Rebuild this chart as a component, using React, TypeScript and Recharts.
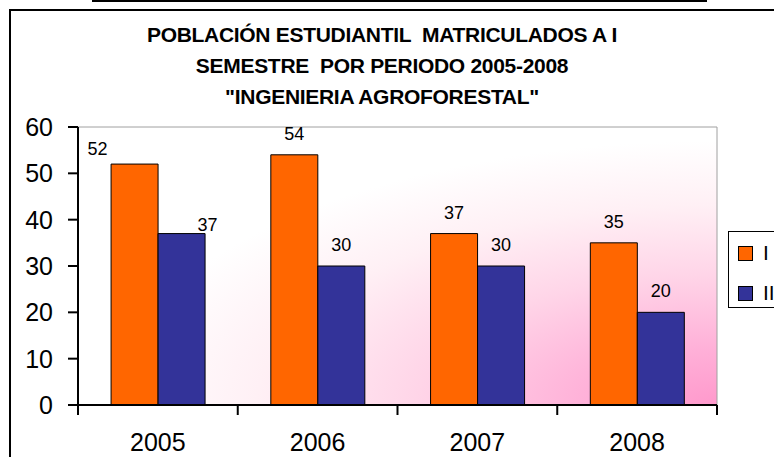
import { BarChart, Bar, XAxis, YAxis, Legend, LabelList, CartesianGrid, ReferenceArea } from "recharts";

const years = ["2005", "2006", "2007", "2008"];
const semesterI = [52, 54, 37, 35];
const semesterII = [37, 30, 30, 20];
const yTicks = [0, 10, 20, 30, 40, 50, 60];
const titleLines = [
  "POBLACIÓN ESTUDIANTIL  MATRICULADOS A I",
  "SEMESTRE  POR PERIODO 2005-2008",
  "\"INGENIERIA AGROFORESTAL\"",
];

const data = years.map((year, i) => ({ year, I: semesterI[i], II: semesterII[i] }));

const FONT = "'Liberation Sans', Arial, sans-serif";

// Excel moved a couple of labels off-centre
const labelNudges: Record<string, { dx: number; dy: number }> = {
  "I-0": { dx: -37, dy: 6 },
  "II-0": { dx: 26, dy: 12 },
};

function makeLabel(series: string) {
  return (props: any) => {
    const { x, y, width, value, index } = props;
    const n = labelNudges[`${series}-${index}`] ?? { dx: 0, dy: 0 };
    return (
      <text
        x={Number(x) + Number(width) / 2 + n.dx}
        y={Number(y) - 15 + n.dy}
        textAnchor="middle"
        fontSize={18}
        fontFamily={FONT}
        fill="#000"
      >
        {value}
      </text>
    );
  };
}

function YearTick(props: any) {
  const { x, y, payload } = props;
  const half = payload.offset ?? 0;
  const last = payload.index === years.length - 1;
  return (
    <g>
      <line x1={x - half} x2={x - half} y1={y} y2={y + 10} stroke="#000" strokeWidth={2} />
      {last && <line x1={x + half} x2={x + half} y1={y} y2={y + 10} stroke="#000" strokeWidth={2} />}
      <text x={x} y={y + 46} textAnchor="middle" fontSize={25} fontFamily={FONT} fill="#000">
        {payload.value}
      </text>
    </g>
  );
}

function LegendBox(props: any) {
  const items = props.payload ?? [];
  return (
    <div
      style={{
        border: "1px solid #000",
        width: 60,
        height: 77,
        boxSizing: "border-box",
        background: "#fff",
        paddingTop: 13,
        paddingLeft: 9,
      }}
    >
      {items.map((it: any, i: number) => (
        <div key={i} style={{ display: "flex", alignItems: "center", height: 16, marginBottom: 24 }}>
          <span
            style={{
              width: 15,
              height: 15,
              boxSizing: "border-box",
              border: "1px solid #000",
              background: it.color,
              marginRight: 10,
            }}
          />
          <span style={{ fontSize: 21, fontFamily: FONT, lineHeight: "16px" }}>{it.value}</span>
        </div>
      ))}
    </div>
  );
}

export default function App() {
  return (
    <div
      style={{
        position: "absolute",
        left: 0,
        top: 0,
        width: 774,
        height: 457,
        overflow: "hidden",
        background: "#fff",
        fontFamily: FONT,
      }}
    >
      <div style={{ position: "absolute", left: 92, top: 0, width: 615, height: 2, background: "#000" }} />
      <div
        style={{
          position: "absolute",
          left: 9,
          top: 9,
          width: 800,
          height: 500,
          border: "2px solid #000",
        }}
      />
      <div
        style={{
          position: "absolute",
          left: 0,
          top: 19,
          width: 764,
          textAlign: "center",
          fontWeight: "bold",
          fontSize: 21,
          letterSpacing: "-0.3px",
          lineHeight: "31px",
          whiteSpace: "pre",
          color: "#000",
        }}
      >
        {titleLines.map((t) => (
          <div key={t}>{t}</div>
        ))}
      </div>
      <div style={{ position: "absolute", left: 0, top: 0 }}>
        <BarChart
          width={774}
          height={457}
          data={data}
          margin={{ top: 127, right: 57, bottom: 0, left: 0 }}
          barCategoryGap="20.7%"
          barGap={0}
        >
          <defs>
            <radialGradient id="plotBg" cx="1" cy="1" r="1" fx="1" fy="1">
              <stop offset="0" stopColor="#ff99cc" />
              <stop offset="0.2" stopColor="#ffb0d8" />
              <stop offset="0.47" stopColor="#ffd5e8" />
              <stop offset="0.72" stopColor="#fff0f5" />
              <stop offset="0.95" stopColor="#ffffff" />
            </radialGradient>
          </defs>
          <CartesianGrid horizontal={false} vertical={false} fill="url(#plotBg)" />
          <ReferenceArea y1={0} y2={60} fill="none" stroke="#a0a0a0" strokeWidth={1} ifOverflow="visible" />
          <XAxis
            dataKey="year"
            height={52}
            tickSize={0}
            tickMargin={0}
            tickLine={false}
            axisLine={{ stroke: "#000", strokeWidth: 2 }}
            tick={<YearTick />}
            interval={0}
          />
          <YAxis
            domain={[0, 60]}
            ticks={yTicks}
            interval={0}
            width={78}
            tickSize={10}
            tickMargin={15}
            axisLine={{ stroke: "#000", strokeWidth: 2 }}
            tickLine={{ stroke: "#000", strokeWidth: 2 }}
            tick={{ fill: "#000", fontSize: 25, fontFamily: FONT }}
          />
          <Legend
            layout="vertical"
            align="center"
            verticalAlign="middle"
            content={<LegendBox />}
            wrapperStyle={{ left: 728, top: 231, width: 60, height: 77 }}
          />
          <Bar dataKey="I" name="I" fill="#ff6600" stroke="#000" strokeWidth={1} isAnimationActive={false}>
            <LabelList dataKey="I" content={makeLabel("I")} />
          </Bar>
          <Bar dataKey="II" name="II" fill="#333399" stroke="#000" strokeWidth={1} isAnimationActive={false}>
            <LabelList dataKey="II" content={makeLabel("II")} />
          </Bar>
        </BarChart>
      </div>
    </div>
  );
}
